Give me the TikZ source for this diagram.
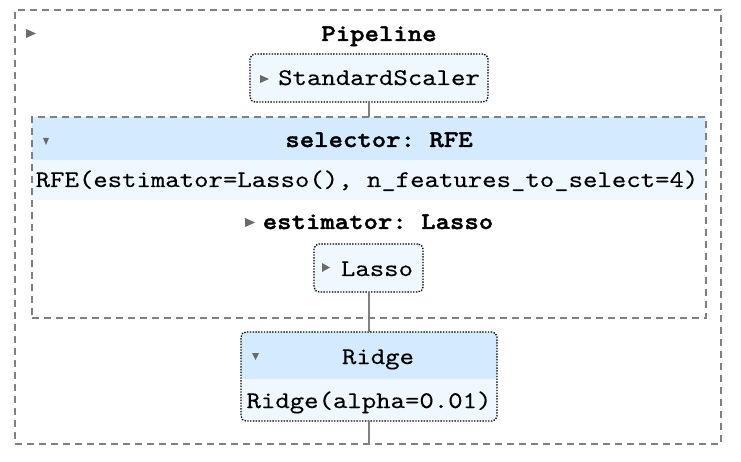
\documentclass[tikz,border=0pt]{standalone}
\usepackage{fontspec}
\setmonofont{lmmono10-regular.otf}[BoldFont=lmmonolt10-bold.otf, FakeStretch=1.148, UprightFeatures={FakeBold=0.25}, BoldFeatures={FakeBold=1.6}]
\definecolor{paramfill}{HTML}{F0F8FF}
\definecolor{headfill}{HTML}{D4EBFF}
\definecolor{framegray}{HTML}{808080}
\definecolor{arrowgray}{HTML}{6A6A6A}
\begin{document}
\begin{tikzpicture}[x=1pt,y=-1pt,
  every node/.style={inner sep=0pt, outer sep=0pt},
  txt/.style={anchor=base, font=\fontsize{23.9}{28}\selectfont\ttfamily},
  boldtxt/.style={txt, font=\fontsize{23.9}{28}\selectfont\ttfamily\bfseries},
  outerbox/.style={draw=framegray, line width=2pt, dash pattern=on 7pt off 5pt},
  estbox/.style={draw=black, line width=1.3pt, dash pattern=on 1.4pt off 1.4pt, rounded corners=5pt},
  conn/.style={draw=framegray, line width=2pt},
  tri/.style={fill=arrowgray}]
\useasboundingbox (0,0) rectangle (741,462);
\fill[white] (0,0) rectangle (741,462);

% pipeline frame
\node[outerbox, minimum width=706pt, minimum height=434pt] (pipeline) at (368,227) {};
\fill[tri] (26,29) -- (36,33.5) -- (26,38) -- cycle;
\node[boldtxt] (pipetitle) at (379,41) {Pipeline};

% StandardScaler step
\node[estbox, fill=paramfill, minimum width=238pt, minimum height=48pt] (scaler) at (369,78) {};
\fill[tri] (260,75) -- (269,79) -- (260,83) -- cycle;
\node[txt] (scalertxt) at (379,85) {StandardScaler};

% RFE selector block
\fill[headfill] (32,117) rectangle (706,160);
\fill[paramfill] (32,160) rectangle (706,200);
\node[outerbox, minimum width=674pt, minimum height=201pt] (rfe) at (369,217.5) {};
\fill[tri] (43,138) -- (49,138) -- (46,145) -- cycle;
\node[boldtxt] (rfetitle) at (379,147) {selector: RFE};
\node[txt] (rfeparams) at (367,187) {RFE(estimator=Lasso(), n\_features\_to\_select=4)};
\fill[tri] (245,218) -- (255,222.5) -- (245,227) -- cycle;
\node[boldtxt] (esttitle) at (378,229) {estimator: Lasso};

% Lasso estimator
\node[estbox, fill=paramfill, minimum width=109pt, minimum height=48pt] (lasso) at (368.5,268) {};
\fill[tri] (322,263) -- (330,267.5) -- (322,272) -- cycle;
\node[txt] (lassotxt) at (377,276) {Lasso};

% Ridge final step
\begin{scope}
  \clip[rounded corners=5pt] (241,332) rectangle (497,421);
  \fill[headfill] (241,332) rectangle (497,379);
  \fill[paramfill] (241,379) rectangle (497,421);
\end{scope}
\node[estbox, minimum width=256pt, minimum height=89pt] (ridge) at (369,376.5) {};
\fill[tri] (252,353) -- (259,353) -- (255.5,360) -- cycle;
\node[txt] (ridgetitle) at (378,364) {Ridge};
\node[txt] (ridgeparams) at (369,408) {Ridge(alpha=0.01)};

% connectors
\coordinate (pipeend) at (ridge.south |- pipeline.south);
\draw[conn] (scaler.south) -- (rfe.north);
\draw[conn] (lasso.south) -- (lasso.south |- ridge.north);
\draw[conn] (ridge.south) -- (pipeend);
\end{tikzpicture}
\end{document}
